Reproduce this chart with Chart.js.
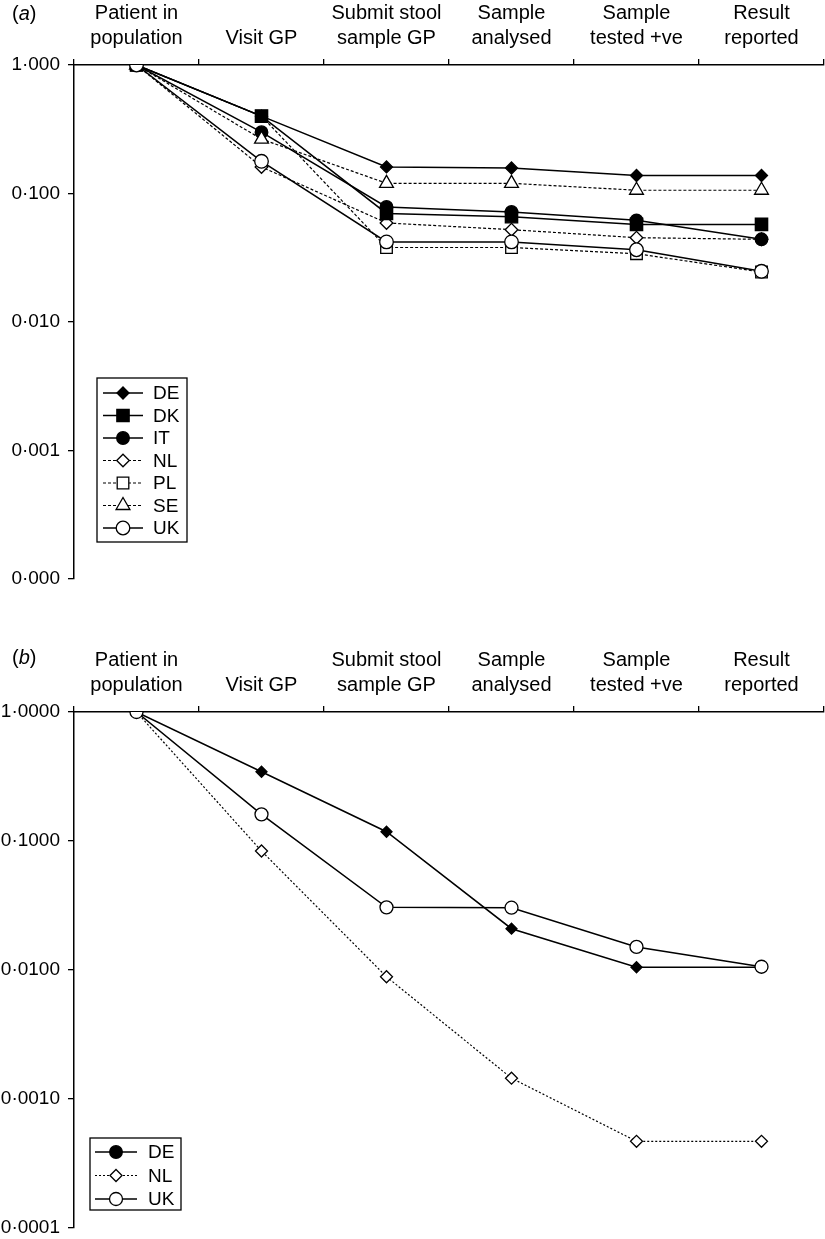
<!DOCTYPE html>
<html><head><meta charset="utf-8">
<script src="https://cdn.jsdelivr.net/npm/chart.js@4.4.0/dist/chart.umd.min.js"></script>
<style>
html,body{margin:0;padding:0;background:#fff;}
body{width:825px;height:1239px;position:relative;overflow:hidden;font-family:"Liberation Sans",Arial,sans-serif;}
.wrap{position:absolute;left:0;width:825px;height:592px;}
#wa{top:0;}
#wb{top:647px;}
.plabel{position:absolute;left:12px;font-size:20px;color:#000;line-height:24px;}
</style></head><body>
<div class="wrap" id="wa"><canvas id="ca" width="825" height="592" style="width:825px;height:592px"></canvas></div>
<div class="wrap" id="wb"><canvas id="cb" width="825" height="592" style="width:825px;height:592px"></canvas></div>
<div class="plabel" style="top:1px">(<i>a</i>)</div>
<div class="plabel" style="top:645px">(<i>b</i>)</div>
<script>
// ---------- data ----------
const categories = [['Patient in','population'],['Visit GP'],['Submit stool','sample GP'],['Sample','analysed'],['Sample','tested +ve'],['Result','reported']];
const tickValues = [1, 0.1, 0.01, 0.001, 0.0001];
const tickLabelsA = ['1·000','0·100','0·010','0·001','0·000'];
const tickLabelsB = ['1·0000','0·1000','0·0100','0·0010','0·0001'];

const countriesA = ['DE','DK','IT','NL','PL','SE','UK'];
const DE_a = [1, 0.40, 0.161, 0.158, 0.138, 0.138];
const DK_a = [1, 0.40, 0.070, 0.066, 0.0575, 0.0575];
const IT_a = [1, 0.30, 0.0786, 0.0718, 0.0618, 0.044];
const NL_a = [1, 0.161, 0.059, 0.0523, 0.0453, 0.044];
const PL_a = [1, 0.40, 0.038, 0.038, 0.034, 0.0245];
const SE_a = [1, 0.265, 0.12, 0.12, 0.106, 0.106];
const UK_a = [1, 0.178, 0.042, 0.042, 0.0365, 0.0248];

const countriesB = ['DE','NL','UK'];
const DE_b = [1, 0.344, 0.118, 0.0209, 0.0105, 0.0105];
const NL_b = [1, 0.0836, 0.00887, 0.00145, 0.00047, 0.00047];
const UK_b = [1, 0.161, 0.0306, 0.0304, 0.0151, 0.0106];

// ---------- styles (z: higher = drawn on top) ----------
const FONT = '"Liberation Sans", Arial, sans-serif';
const styles = {
  DE:{shape:'rectRot', r:6, fill:'#000', dash:[], z:1},
  DK:{shape:'rect', r:8.7, fill:'#000', dash:[], z:6},
  IT:{shape:'circle', r:6.3, fill:'#000', dash:[], z:3},
  NL:{shape:'rectRot', r:6.3, fill:'#fff', dash:[3,2], z:2},
  PL:{shape:'rect', r:8.2, fill:'#fff', dash:[3,2], z:4},
  SE:{shape:'triangle', r:8, fill:'#fff', dash:[3,2], z:5},
  UK:{shape:'circle', r:6.8, fill:'#fff', dash:[], z:7}
};
const stylesB = {
  DE:{shape:'rectRot', r:5.5, fill:'#000', dash:[], legendShape:'circle', legendR:6.3, z:1},
  NL:{shape:'rectRot', r:6, fill:'#fff', dash:[2,2], z:2},
  UK:{shape:'circle', r:6.5, fill:'#fff', dash:[], z:3}
};

function drawMarker(ctx, shape, r, x, y) {
  ctx.beginPath();
  if (shape === 'circle') { ctx.arc(x, y, r, 0, Math.PI*2); }
  else if (shape === 'rect') { const s = r*Math.SQRT1_2; ctx.rect(x-s, y-s, 2*s, 2*s); }
  else if (shape === 'rectRot') { ctx.moveTo(x-r,y); ctx.lineTo(x,y-r); ctx.lineTo(x+r,y); ctx.lineTo(x,y+r); ctx.closePath(); }
  else if (shape === 'triangle') {
    for (let k=0;k<3;k++){ const a = k*2*Math.PI/3; const px = x+Math.sin(a)*r, py = y-Math.cos(a)*r; k?ctx.lineTo(px,py):ctx.moveTo(px,py);} ctx.closePath();
  }
  ctx.fill(); ctx.stroke();
}

const boxLegend = {
  id:'boxLegend',
  afterDraw(chart, args, o) {
    const ctx = chart.ctx;
    ctx.save();
    ctx.fillStyle = '#fff'; ctx.fillRect(o.x, o.y, o.w, o.h);
    ctx.strokeStyle = '#000'; ctx.lineWidth = 1.3; ctx.setLineDash([]); ctx.strokeRect(o.x, o.y, o.w, o.h);
    chart.data.datasets.forEach((ds, i) => {
      const yy = o.firstY + i*o.rowH;
      ctx.beginPath(); ctx.setLineDash(ds.borderDash || []); ctx.lineWidth = ds.borderWidth; ctx.strokeStyle='#000';
      ctx.moveTo(o.lineX0, yy); ctx.lineTo(o.lineX1, yy); ctx.stroke();
      ctx.setLineDash([]);
      ctx.fillStyle = ds.pointBackgroundColor; ctx.lineWidth = 1.3;
      drawMarker(ctx, ds.legendShape || ds.pointStyle, ds.legendR || ds.pointRadius, o.markX, yy);
      ctx.fillStyle = '#000'; ctx.font = '19px ' + FONT; ctx.textBaseline = 'middle'; ctx.textAlign = 'left';
      ctx.fillText(ds.label, o.textX, yy + 1);
    });
    ctx.restore();
  }
};

function makeChart(id, names, values, st, tickLabels, legendOpts, padBottom) {
  const datasets = names.map((nm, i) => {
    const s = st[nm];
    return {
      label: nm, data: values[i], borderColor:'#000', borderWidth: s.dash.length ? 1.2 : 1.5,
      borderDash: s.dash, pointStyle: s.shape, pointRadius: s.r, pointHoverRadius: s.r,
      pointBackgroundColor: s.fill, pointBorderColor:'#000', pointBorderWidth:1.3,
      tension:0, fill:false, order: -s.z, legendShape: s.legendShape, legendR: s.legendR
    };
  });
  return new Chart(document.getElementById(id), {
    type:'line',
    data:{labels: categories, datasets},
    plugins:[boxLegend],
    options:{
      responsive:false, animation:false, devicePixelRatio:1,
      layout:{autoPadding:false, padding:{top:0, right:1, bottom:padBottom, left:0}},
      plugins:{legend:{display:false}, tooltip:{enabled:false}, boxLegend: legendOpts},
      scales:{
        x:{type:'category', position:'top', offset:true,
           grid:{offset:true, drawOnChartArea:false, drawTicks:true, tickLength:6, color:'#000', lineWidth:1.3},
           border:{display:true, color:'#000', width:1.5},
           ticks:{color:'#000', font:{family:FONT, size:20, lineHeight:1.25}, padding:8, maxRotation:0, autoSkip:false},
           afterFit(s){ s.height = 65; s.paddingLeft = 0; s.paddingRight = 0; }
        },
        y:{type:'logarithmic', min:0.0001, max:1,
           afterBuildTicks(s){ s.ticks = tickValues.map(v => ({value:v, major:false})); },
           grid:{drawOnChartArea:false, drawTicks:true, tickLength:6, color:'#000', lineWidth:1.3},
           border:{display:true, color:'#000', width:1.5},
           ticks:{color:'#000', font:{family:FONT, size:19}, padding:8, autoSkip:false,
                  callback:(v) => tickLabels[Math.round(-Math.log10(v))]},
           afterFit(s){ s.width = 74; s.paddingTop = 0; s.paddingBottom = 0; }
        }
      }
    }
  });
}

makeChart('ca', countriesA, [DE_a, DK_a, IT_a, NL_a, PL_a, SE_a, UK_a], styles, tickLabelsA,
  {x:97, y:378, w:90, h:164, firstY:393, rowH:22.5, lineX0:103, lineX1:143, markX:123, textX:153}, 13);
makeChart('cb', countriesB, [DE_b, NL_b, UK_b], stylesB, tickLabelsB,
  {x:90, y:491, w:91, h:72, firstY:505, rowH:23.5, lineX0:95, lineX1:137, markX:116, textX:148}, 11);
</script>
</body></html>
